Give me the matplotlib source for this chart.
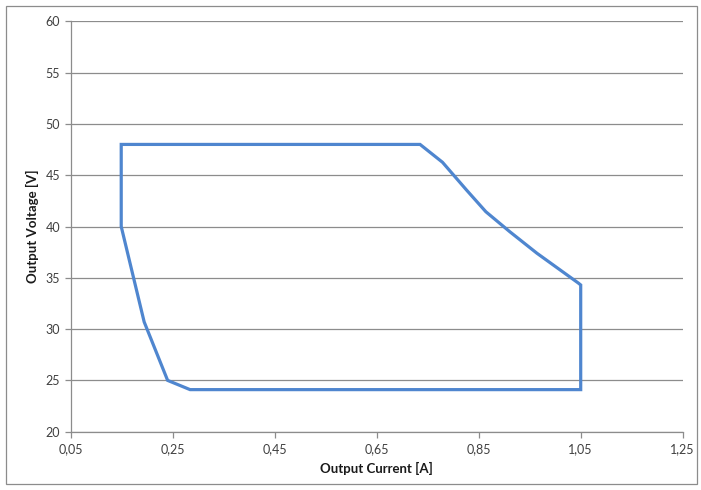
import matplotlib
matplotlib.use("Agg")
import matplotlib.pyplot as plt
from matplotlib.patches import Rectangle

current = [0.149, 0.735, 0.779, 0.826, 0.864, 0.911, 0.964, 1.045, 1.05, 1.05, 0.284, 0.240, 0.194, 0.149]
voltage = [48.0, 48.0, 46.26, 43.56, 41.44, 39.49, 37.4, 34.5, 34.3, 24.1, 24.1, 25.0, 30.7, 40.0]

xticks = [0.05, 0.25, 0.45, 0.65, 0.85, 1.05, 1.25]
xticklabels = ["0,05", "0,25", "0,45", "0,65", "0,85", "1,05", "1,25"]
yticks = [20, 25, 30, 35, 40, 45, 50, 55, 60]

plt.rcParams['font.family'] = ['Lato', 'DejaVu Sans']

fig = plt.figure(figsize=(7.01, 4.90), dpi=100)
ax = fig.add_axes([0.1009, 0.119, 0.873, 0.8375])

ax.fill(current, voltage, fill=False, edgecolor='#4F86CF', linewidth=2.3, joinstyle='miter')

ax.set_xlim(0.05, 1.25)
ax.set_ylim(20, 60)
ax.set_xticks(xticks)
ax.set_xticklabels(xticklabels)
ax.set_yticks(yticks)
ax.grid(axis='y', color='#8c8c8c', linewidth=0.9)
ax.set_axisbelow(True)
for s in ['top', 'right']:
    ax.spines[s].set_visible(False)
for s in ['left', 'bottom']:
    ax.spines[s].set_color('#8c8c8c')
    ax.spines[s].set_linewidth(0.9)
ax.tick_params(axis='both', colors='#8c8c8c', labelcolor='#404040', labelsize=9, length=4, width=0.9)
ax.tick_params(axis='x', pad=4)

ax.set_xlabel("Output Current [A]", fontsize=9.5, fontweight='bold', color='#1a1a1a', labelpad=5)
ax.set_ylabel("Output Voltage [V]", fontsize=9.5, fontweight='bold', color='#1a1a1a', labelpad=5)

fig.patches.append(Rectangle((6/701, 6/490), 691/701, 478/490, transform=fig.transFigure,
                             fill=False, edgecolor='#8c8c8c', linewidth=0.9))

fig.savefig("out.png", dpi=100)
